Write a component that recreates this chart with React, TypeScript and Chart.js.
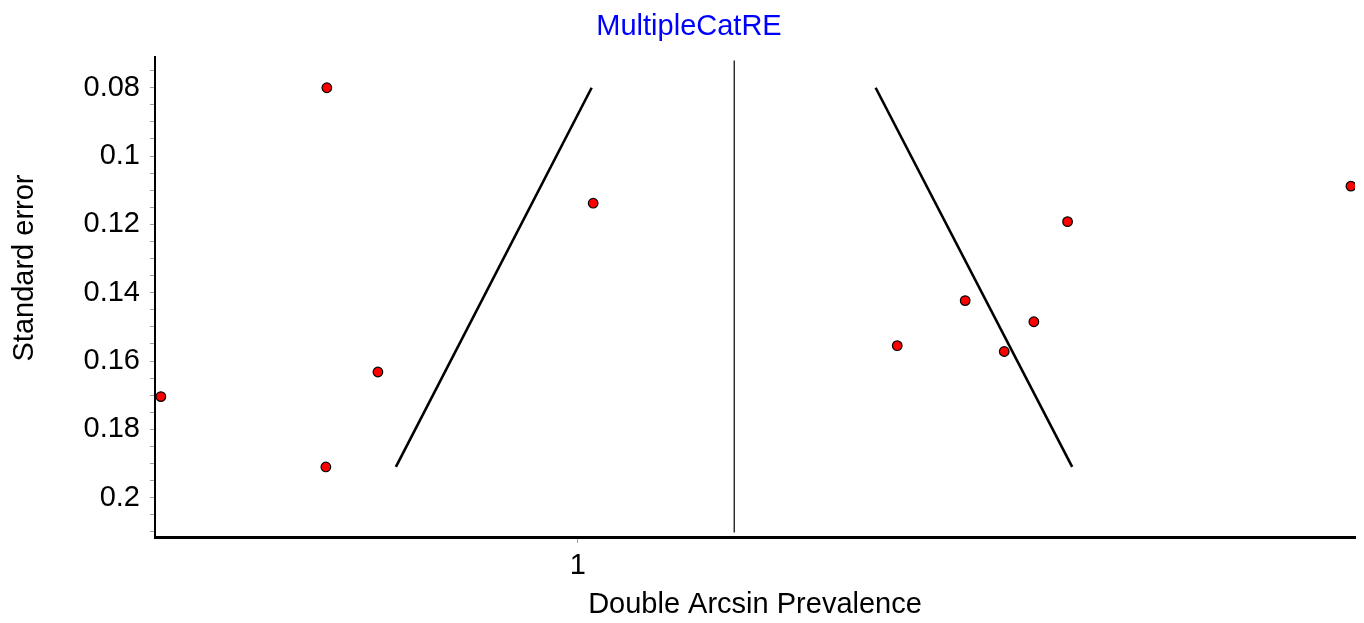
import React, { useEffect, useRef } from "react";
import { Chart, registerables } from "chart.js";

Chart.register(...registerables);

// Study estimates (Double Arcsin Prevalence) and their standard errors
const studyX = [0.7222, 1.0169, 0.5385, 0.7787, 0.7211, 1.8555, 1.5419, 1.4286, 1.5046, 1.3534, 1.4718];
const studySE = [0.08, 0.1138, 0.1704, 0.1632, 0.191, 0.1088, 0.1192, 0.1423, 0.1485, 0.1555, 0.1572];

// Funnel limits (end points) and pooled estimate line
const funnelLeftX = [1.0152, 0.7986];
const funnelRightX = [1.3295, 1.547];
const funnelSE = [0.08, 0.191];
const pooledX = [1.173, 1.173];
const pooledSE = [0.072, 0.2102];

// Axis ticks
const xTicks = [1];
const yMajorTicks = [0.08, 0.1, 0.12, 0.14, 0.16, 0.18, 0.2];
const yMinorTicks = [0.075, 0.085, 0.09, 0.095, 0.105, 0.11, 0.115, 0.125, 0.13, 0.135, 0.145, 0.15, 0.155, 0.165, 0.17, 0.175, 0.185, 0.19, 0.195, 0.205, 0.21];

const FONT = "'Liberation Sans', Arial, sans-serif";

export default function App() {
  const ref = useRef<HTMLCanvasElement | null>(null);

  useEffect(() => {
    document.body.style.margin = "0";
    const canvas = ref.current;
    if (!canvas) return;

    const yTitlePlugin = {
      id: "yTitle",
      afterDraw(chart: any) {
        const ctx = chart.ctx;
        ctx.save();
        ctx.translate(25, 268);
        ctx.rotate(-Math.PI / 2);
        ctx.font = `29px ${FONT}`;
        ctx.fillStyle = "#000";
        ctx.textAlign = "center";
        ctx.textBaseline = "middle";
        ctx.fillText("Standard error", 0, 0);
        ctx.restore();
      },
    };

    const isMajor = (v: number) => yMajorTicks.some((m) => Math.abs(m - v) < 1e-9);

    const chart = new Chart(canvas, {
      type: "scatter",
      data: {
        datasets: [
          {
            label: "Studies",
            data: studyX.map((x, i) => ({ x, y: studySE[i] })),
            pointRadius: 4.8,
            pointBackgroundColor: "#ff0000",
            pointBorderColor: "#000000",
            pointBorderWidth: 1.2,
            showLine: false,
          },
          {
            label: "Lower limit",
            data: funnelLeftX.map((x, i) => ({ x, y: funnelSE[i] })),
            showLine: true,
            borderColor: "#000000",
            borderWidth: 2.6,
            pointRadius: 0,
          },
          {
            label: "Upper limit",
            data: funnelRightX.map((x, i) => ({ x, y: funnelSE[i] })),
            showLine: true,
            borderColor: "#000000",
            borderWidth: 2.6,
            pointRadius: 0,
          },
          {
            label: "Pooled",
            data: pooledX.map((x, i) => ({ x, y: pooledSE[i] })),
            showLine: true,
            borderColor: "#000000",
            borderWidth: 1.2,
            pointRadius: 0,
          },
        ],
      },
      options: {
        animation: false,
        responsive: false,
        devicePixelRatio: 1,
        layout: { padding: { left: 23, right: 9, top: 0, bottom: 0 } },
        plugins: {
          legend: { display: false },
          tooltip: { enabled: false },
          title: {
            display: true,
            text: "MultipleCatRE",
            color: "#0000ff",
            font: { family: FONT, size: 29, weight: "normal" },
            padding: { top: 9.6, bottom: 12.6 },
          },
        },
        scales: {
          x: {
            type: "linear",
            min: 0.532,
            max: 1.86,
            afterFit: (s: any) => {
              s.height = 86;
            },
            afterBuildTicks: (s: any) => {
              s.ticks = xTicks.map((v) => ({ value: v }));
            },
            ticks: {
              color: "#000",
              font: { family: FONT, size: 29 },
              padding: 6,
              maxRotation: 0,
              autoSkip: false,
              callback: (v: any) => String(v),
            },
            grid: {
              display: true,
              drawOnChartArea: false,
              drawTicks: true,
              tickLength: 6,
              tickColor: "#a0a0a0",
              tickWidth: 1,
            },
            border: { display: true, color: "#000", width: 3 },
            title: {
              display: true,
              text: "Double Arcsin Prevalence",
              color: "#000",
              font: { family: FONT, size: 29 },
              padding: { top: 0, bottom: 1 },
            },
          },
          y: {
            type: "linear",
            reverse: true,
            min: 0.071,
            max: 0.2115,
            afterFit: (s: any) => {
              s.width = 132;
            },
            afterBuildTicks: (s: any) => {
              const all = [...yMajorTicks, ...yMinorTicks].sort((a, b) => a - b);
              s.ticks = all.map((v) => ({ value: v }));
            },
            ticks: {
              autoSkip: false,
              color: "#000",
              font: { family: FONT, size: 29 },
              padding: 10,
              callback: (v: any) => (isMajor(Number(v)) ? String(parseFloat(Number(v).toFixed(3))) : ""),
            },
            grid: {
              display: true,
              drawOnChartArea: false,
              drawTicks: true,
              tickLength: 5,
              tickColor: "#a0a0a0",
              tickWidth: 1,
            },
            border: { display: true, color: "#000", width: 2 },
          },
        },
      },
      plugins: [yTitlePlugin],
    } as any);

    return () => chart.destroy();
  }, []);

  return (
    <div style={{ width: 1364, height: 623 }}>
      <canvas ref={ref} width={1364} height={623} style={{ display: "block" }} />
    </div>
  );
}
